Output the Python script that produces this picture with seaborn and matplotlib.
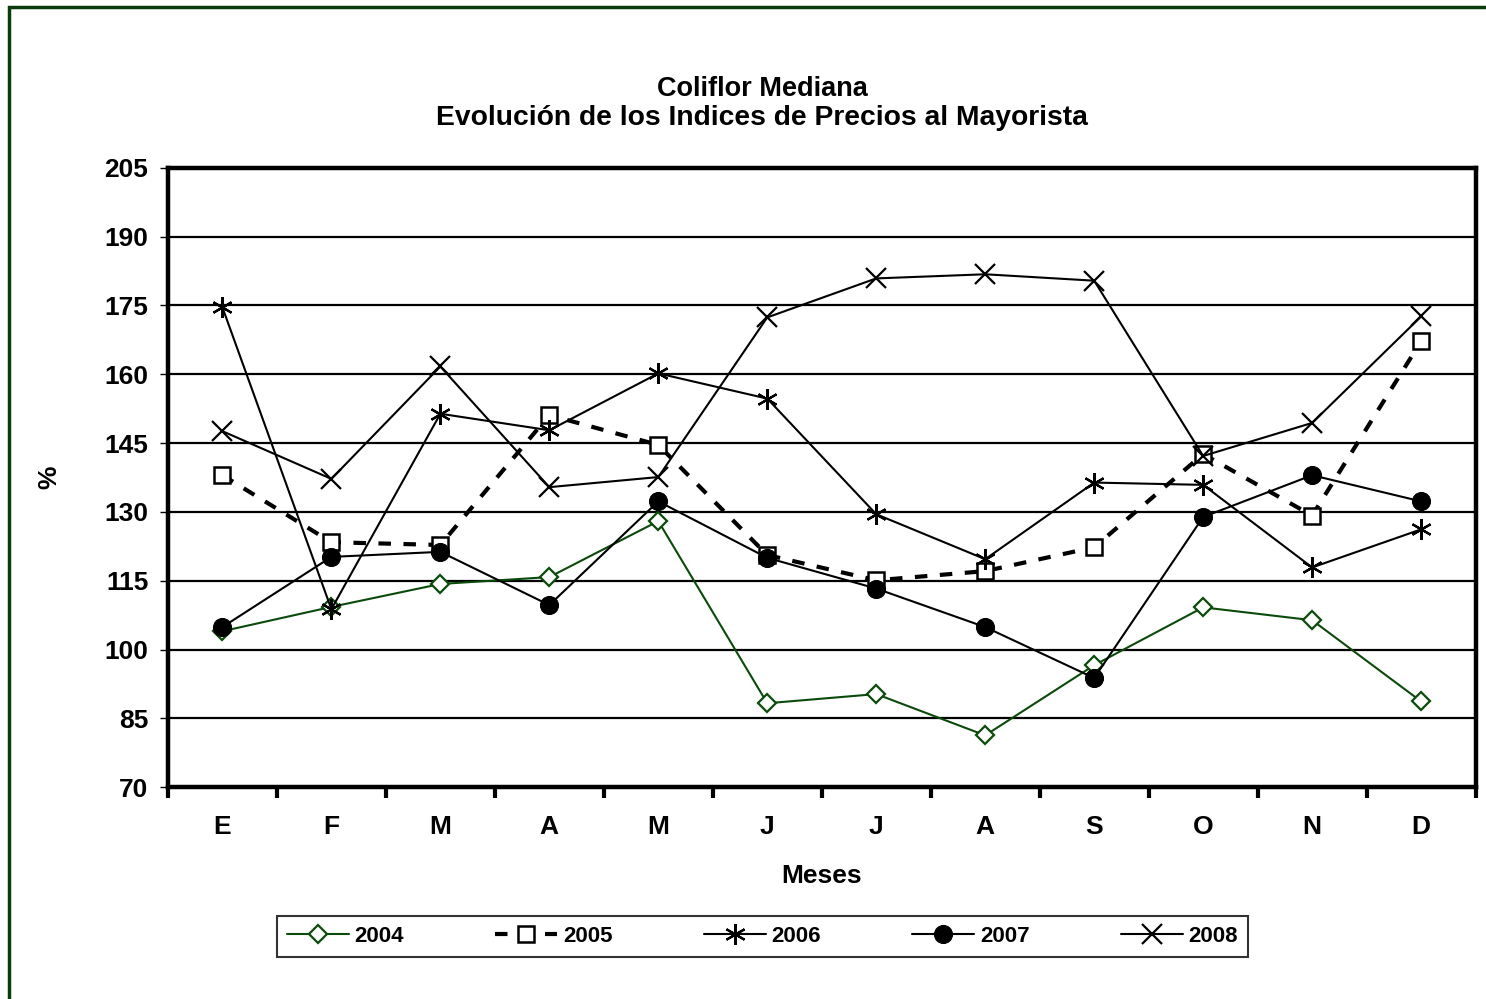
import pandas as pd
import matplotlib.pyplot as plt
import seaborn as sns
import numpy as np
from matplotlib.patches import Rectangle
from matplotlib.ticker import FixedLocator

meses = ['E', 'F', 'M', 'A', 'M', 'J', 'J', 'A', 'S', 'O', 'N', 'D']
yticks = list(range(70, 206, 15))

idx_2004 = [104.0, 109.3, 114.3, 115.8, 128.0, 88.3, 90.3, 81.3, 96.6, 109.2, 106.4, 88.7]
idx_2005 = [138.0, 123.4, 122.8, 151.1, 144.6, 120.6, 115.1, 117.1, 122.3, 142.6, 129.2, 167.2]
idx_2006 = [174.6, 108.8, 151.4, 147.8, 160.2, 154.7, 129.5, 119.7, 136.4, 135.9, 117.9, 126.2]
idx_2007 = [104.9, 120.2, 121.3, 109.7, 132.3, 120.0, 113.3, 104.9, 93.8, 128.9, 138.0, 132.3]
idx_2008 = [147.6, 137.2, 161.7, 135.4, 137.6, 172.4, 180.9, 181.8, 180.4, 142.2, 149.4, 172.6]

years = ['2004', '2005', '2006', '2007', '2008']
series = [idx_2004, idx_2005, idx_2006, idx_2007, idx_2008]

df = pd.DataFrame({
    'pos': np.tile(np.arange(len(meses)), len(years)),
    'valor': np.concatenate(series),
    'anio': np.repeat(years, len(meses)),
})

# estilo de cada serie (como en el grafico de Excel)
green = '#0a4a0a'
styles = {
    '2004': dict(color=green, marker='D', ms=9, mfc='white', mec=green, mew=1.6, lw=1.5, ls='-'),
    '2005': dict(color='black', marker='s', ms=12, mfc='white', mec='black', mew=1.8, lw=3.0, ls=(0, (3, 3))),
    '2006': dict(color='black', marker=(6, 2, 0), ms=15, mec='black', mew=1.6, lw=1.5, ls='-'),
    '2007': dict(color='black', marker='o', ms=13, mfc='black', mec='black', lw=1.5, ls='-'),
    '2008': dict(color='black', marker='x', ms=14, mec='black', mew=1.6, lw=1.5, ls='-'),
}

sns.set_theme(style='white')
plt.rcParams['font.family'] = ['Liberation Sans', 'DejaVu Sans']
plt.rcParams['font.weight'] = 'bold'
plt.rcParams['text.color'] = 'black'
plt.rcParams['axes.labelcolor'] = 'black'
plt.rcParams['xtick.color'] = 'black'
plt.rcParams['ytick.color'] = 'black'

fig = plt.figure(figsize=(14.86, 9.99), dpi=100)
ax = fig.add_axes([0.113, 0.212, 0.880, 0.620])

for y in years:
    sub = df[df['anio'] == y]
    sns.lineplot(data=sub, x='pos', y='valor', ax=ax, label=y, **styles[y])

ax.set_xlim(-0.5, len(meses) - 0.5)
ax.set_ylim(70, 205)
ax.yaxis.set_major_locator(FixedLocator(yticks))
ax.grid(axis='y', color='black', lw=1.6)
ax.grid(axis='x', visible=False)
ax.set_axisbelow(True)

ax.set_xticks(np.arange(len(meses)))
ax.set_xticklabels(meses, fontsize=19, fontweight='bold')
ax.xaxis.set_minor_locator(FixedLocator(np.arange(-0.5, len(meses), 1)))
ax.tick_params(axis='x', which='major', length=0, pad=20)
ax.tick_params(axis='x', which='minor', length=8, width=3, direction='out', color='black', bottom=True)
ax.tick_params(axis='y', length=6, width=1, direction='out', color='black', left=True, labelsize=19, pad=8)
for lab in ax.get_yticklabels():
    lab.set_fontweight('bold')

for s in ax.spines.values():
    s.set_color('black')
    s.set_linewidth(3.2)

ax.set_xlabel('Meses', fontsize=19, fontweight='bold', labelpad=18)
ax.set_ylabel('%', fontsize=19, fontweight='bold', labelpad=31)

fig.text(0.513, 0.911, 'Coliflor Mediana', ha='center', va='center', fontsize=19.5, fontweight='bold')
fig.text(0.513, 0.882, 'Evolución de los Indices de Precios al Mayorista', ha='center', va='center',
         fontsize=20.3, fontweight='bold')

leg = ax.legend(loc='center', bbox_to_anchor=(0.513, 0.063), bbox_transform=fig.transFigure,
                ncol=5, frameon=True, fancybox=False, shadow=False, fontsize=16,
                handlelength=2.8, columnspacing=4.1, handletextpad=0.25, borderpad=0.45)
leg.get_frame().set_edgecolor('black')
leg.get_frame().set_linewidth(1.5)
for t in leg.get_texts():
    t.set_fontweight('bold')

# borde verde del area del grafico
fig.patches.append(Rectangle((9 / 1486, -0.1), 1.2, 1.1 - 7 / 999, transform=fig.transFigure,
                             fill=False, edgecolor='#0b3d0b', lw=2.5))

fig.savefig('out.png', dpi=100)
